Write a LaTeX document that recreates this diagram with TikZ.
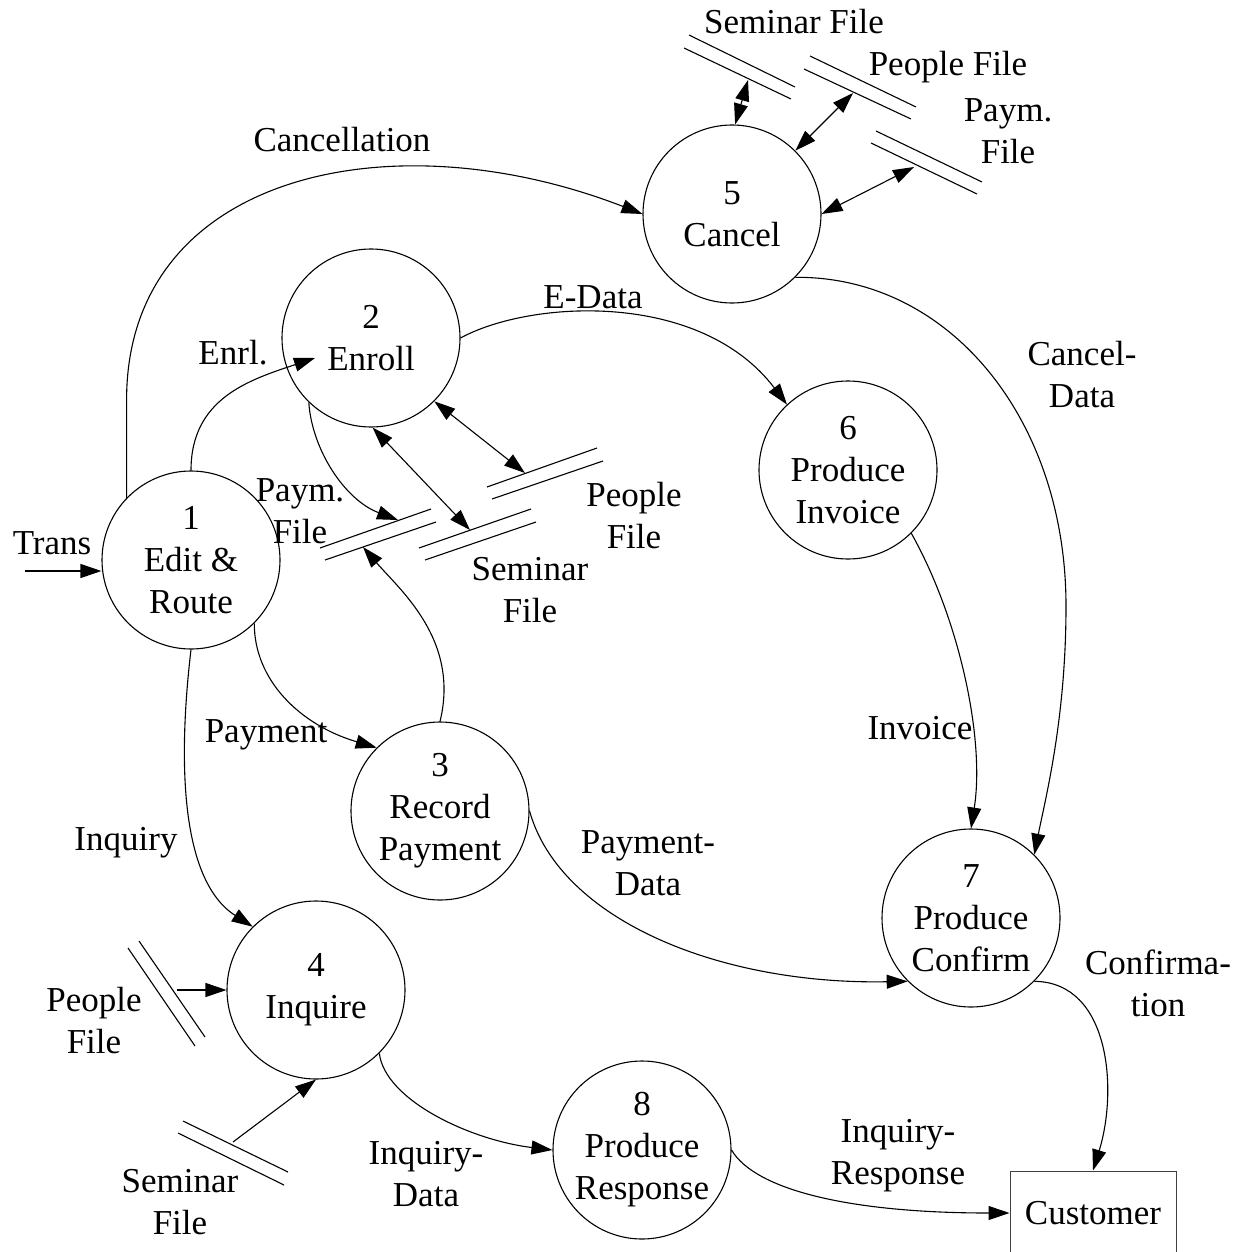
\documentclass[tikz,border=0pt]{standalone}
\usepackage{fontspec}
\setmainfont{Liberation Serif}
\usetikzlibrary{arrows.meta}

\begin{document}
\begin{tikzpicture}[x=1pt,y=-1pt,font=\fontsize{35}{42}\selectfont,
 line width=1.1pt,>={Triangle[length=21pt,width=14pt]},
 proc/.style={draw,circle,minimum size=178pt,inner sep=0pt,align=center},
 lbl/.style={align=center,inner sep=0pt},
 flow/.style={->},both/.style={<->}]
\useasboundingbox (0,0) rectangle (1244,1252);
\node[proc] (c1) at (191,560) {1\\Edit \&\\Route};
\node[proc] (c2) at (371,338) {2\\Enroll};
\node[proc] (c3) at (440,811) {3\\Record\\Payment};
\node[proc] (c4) at (316,990) {4\\Inquire};
\node[proc] (c5) at (732,214) {5\\Cancel};
\node[proc] (c6) at (848,470) {6\\Produce\\Invoice};
\node[proc] (c7) at (971,918) {7\\Produce\\Confirm};
\node[proc] (c8) at (642,1150) {8\\Produce\\Response};
\node[draw=black!75,line width=1pt,minimum width=166pt,minimum height=84pt,inner sep=0pt] (cust) at (1093,1213) {Customer};
\draw (689,35)--(795,87) (684,48)--(791,99);
\draw (810,56)--(916,107) (804,69)--(911,119);
\draw (876,131)--(982,182) (871,143)--(977,194);
\draw (320,548)--(431,509) (325,560)--(436,522);
\draw (419,548)--(531,509) (425,560)--(536,522);
\draw (487,487)--(597,448) (492,499)--(603,461);
\draw (128,948)--(195,1046) (139,941)--(205,1037);
\draw (183,1121)--(288,1172) (178,1133)--(284,1185);
\coordinate (semT) at (748,80);
\coordinate (pplT) at (853,93);
\coordinate (payT) at (914,167);
\coordinate (payIn) at (398,520);
\coordinate (payOut) at (363,547);
\coordinate (semM) at (470,530);
\coordinate (pplM) at (525,473);
\coordinate (pplB) at (177,990);
\coordinate (semB) at (233,1142);
\coordinate (trans) at (25,571);
\draw[flow] (trans) -- (trans -| c1.west);
\draw[flow] (c1.136) -- ++(0,-98) .. controls +(0,-225) and +(-253,-98) .. (c5.west);
\draw[flow] (c1.north) .. controls +(0,-72) and +(-66,22) .. ([shift={(-56,20)}]c2.center);
\draw[flow] (c2.east) .. controls (530,300) and (700,290) .. (c6.133);
\draw[flow] (c2.226) .. controls (312,450) and (345,500) .. (payIn);
\draw[both] (c2.271) -- (semM);
\draw[both] (c2.315) -- (pplM);
\draw[flow] (c1.315) .. controls (254,680) and (300,725) .. (c3.135);
\draw[flow] (c3.north) .. controls (460,640) and (400,590) .. (payOut);
\draw[flow] (c1.south) .. controls (178,760) and (180,880) .. (c4.135);
\draw[flow] (c3.east) .. controls (560,920) and (720,985) .. (c7.225);
\draw[flow] (c6.315) .. controls (960,620) and (985,740) .. (c7.north);
\draw[flow] (c5.315) .. controls (950,276) and (1066,420) .. (1066,606)
 .. controls (1066,720) and (1045,800) .. (c7.45);
\draw[flow] (c7.315) .. controls (1110,982) and (1118,1090) .. (cust.north);
\draw[flow] (c4.315) .. controls (385,1100) and (470,1140) .. (c8.west);
\draw[flow] (c8.east) .. controls (755,1190) and (850,1213) .. (cust.west);
\draw[both] (c5.88) -- (semT);
\draw[both] (c5.45) -- (pplT);
\draw[both] (c5.east) -- (payT);
\draw[flow] (pplB) -- (c4.west);
\draw[flow] (semB) -- (c4.south);
\node[lbl] (tTrans) at (52,543) {Trans};
\node[lbl] (tCanc) at (342,140) {Cancellation};
\node[lbl] (tEnrl) at (233,353) {Enrl.};
\node[lbl] (tEdata) at (593,297) {E-Data};
\node[lbl] (tPaymM) at (300,511) {Paym.\\File};
\node[lbl] (tPplM) at (634,516) {People\\File};
\node[lbl] (tSemM) at (530,590) {Seminar\\File};
\node[lbl] (tSemT) at (794,22) {Seminar File};
\node[lbl] (tPplT) at (948,67) {People File};
\node[lbl] (tPaymT) at (1008,131) {Paym.\\File};
\node[lbl] (tCdata) at (1082,375) {Cancel-\\Data};
\node[lbl] (tInv) at (920,728) {Invoice};
\node[lbl] (tPay) at (266,735) {Payment};
\node[lbl] (tInq) at (126,843) {Inquiry};
\node[lbl] (tPdata) at (648,863) {Payment-\\Data};
\node[lbl] (tConf) at (1158,983) {Confirma-\\tion};
\node[lbl] (tPplB) at (94,1021) {People\\File};
\node[lbl] (tSemB) at (180,1202) {Seminar\\File};
\node[lbl] (tIdata) at (426,1174) {Inquiry-\\Data};
\node[lbl] (tIresp) at (898,1156) {Inquiry-\\Response};
\end{tikzpicture}
\end{document}
